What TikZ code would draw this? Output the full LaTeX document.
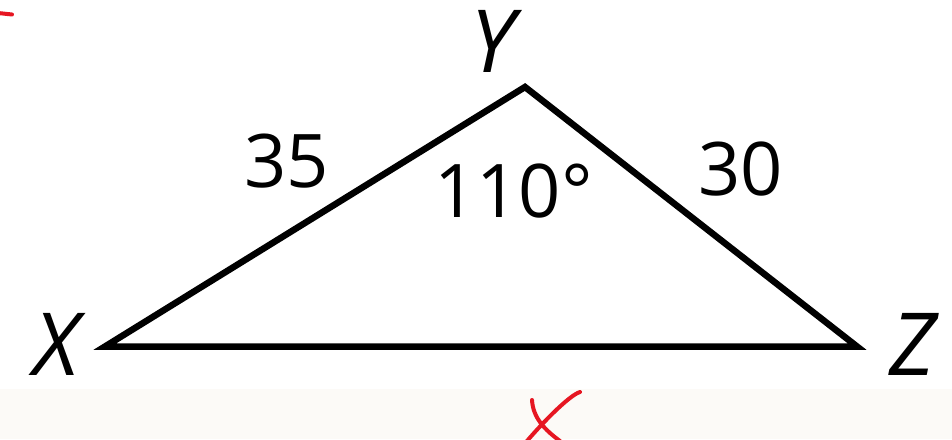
\documentclass[tikz,border=0pt]{standalone}
\usepackage{fontspec}
\setmainfont{Open Sans}
\definecolor{markred}{RGB}{230,22,34}
\definecolor{paper}{RGB}{252,250,247}
\tikzset{
  side/.style={line width=6.5pt, line join=miter, black},
  numlbl/.style={inner sep=0pt, anchor=base, font=\fontsize{74}{80}\selectfont},
  vertlbl/.style={inner sep=0pt, anchor=base, font=\fontsize{87}{90}\selectfont\itshape},
  pen/.style={markred, line width=4pt, line cap=round}
}
\begin{document}
\begin{tikzpicture}[x=1pt,y=-1pt]
\useasboundingbox (0,0) rectangle (952,439);
\fill[white] (0,0) rectangle (952,439);
\fill[paper] (0,389) rectangle (952,439);
% triangle
\coordinate (X) at (105,346.5);
\coordinate (Y) at (525,87);
\coordinate (Z) at (857,346.5);
\draw[side] (X) -- (Y) -- (Z) -- cycle;
% labels
\node[vertlbl] (lx) at (56,375) {X};
\node[vertlbl] (ly) at (493,72) {Y};
\node[vertlbl] (lz) at (913,375) {Z};
\node[numlbl] (s1) at (286.5,187) {35};
\node[numlbl] (s2) at (740.5,195) {30};
\node[numlbl] (ang) at (513.5,217) {110°};
% red pen marks
\draw[pen] (-2,13) -- (12,14.5);
\draw[pen] (532,400) .. controls (533,418) and (545,430) .. (560,441);
\draw[pen] (580,392) .. controls (570,395) and (545,420) .. (527,441);
\end{tikzpicture}
\end{document}
